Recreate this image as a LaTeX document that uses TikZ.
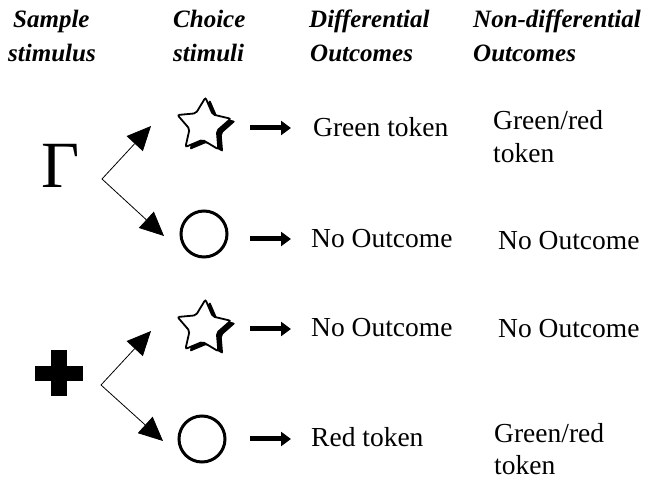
\documentclass[tikz,border=0pt]{standalone}
\usepackage{fontspec}
\setmainfont{Liberation Serif}
\usetikzlibrary{shapes.geometric,arrows.meta}
\begin{document}
\begin{tikzpicture}[x=1pt,y=-1pt,
  hdr/.style={anchor=base west,inner sep=0pt,font=\fontsize{25}{25}\selectfont\bfseries\itshape},
  txt/.style={anchor=base west,inner sep=0pt,font=\fontsize{27.5}{27.5}\selectfont},
  branch/.style={line width=0.8pt,-{Triangle[length=24pt,width=22pt]}},
  shortarrow/.style={line width=5pt,-{Triangle[length=10pt,width=14pt]}},
  starfront/.style={star,star points=5,star point ratio=1.95,minimum size=56pt,inner sep=0pt,draw,fill=white,line width=1.8pt,rounded corners=2pt,shape border rotate=-4},
  starshadow/.style={star,star points=5,star point ratio=1.95,minimum size=57pt,inner sep=0pt,fill=black,rounded corners=2pt,shape border rotate=-4},
  choicecircle/.style={circle,draw,line width=3pt,minimum size=46pt,inner sep=0pt},
  bigsym/.style={inner sep=0pt,font=\fontsize{66}{66}\selectfont}
]
\useasboundingbox (0,0) rectangle (649,481);

% headers
\node[hdr] (h1a) at (13,28) {Sample};
\node[hdr] (h1b) at (8,62) {stimulus};
\node[hdr] (h2a) at (173,28) {Choice};
\node[hdr] (h2b) at (173,62) {stimuli};
\node[hdr] (h3a) at (309,28) {Differential};
\node[hdr] (h3b) at (310,62) {Outcomes};
\node[hdr] (h4a) at (473,28) {Non-differential};
\node[hdr] (h4b) at (473,62) {Outcomes};

% sample stimuli
\node[bigsym] (gamma) at (61,166) {Γ};
\fill (35,366) rectangle (83,381);
\fill (51,350) rectangle (67,396);
\node[inner sep=0pt,minimum size=48pt] (plus) at (59,373) {};

% choice stimuli
\node[starshadow] (star1s) at (208,128) {};
\node[starfront] (star1) at (203.5,125.5) {};
\node[choicecircle] (circ1) at (204,234) {};
\node[starshadow] (star2s) at (208,330) {};
\node[starfront] (star2) at (203.5,327.5) {};
\node[choicecircle] (circ2) at (202,439) {};

% branch arrows
\coordinate (v1) at (102,179);
\coordinate (t1a) at (151,126);
\coordinate (t1b) at (164,236);
\coordinate (v2) at (101,385);
\coordinate (t2a) at (151,331);
\coordinate (t2b) at (163,441);
\draw[branch] (v1) -- (t1a);
\draw[branch] (v1) -- (t1b);
\draw[branch] (v2) -- (t2a);
\draw[branch] (v2) -- (t2b);

% short arrows
\coordinate (a1s) at (250,128); \coordinate (a1e) at (291,128);
\coordinate (a2s) at (250,239); \coordinate (a2e) at (291,239);
\coordinate (a3s) at (250,329); \coordinate (a3e) at (291,329);
\coordinate (a4s) at (250,439); \coordinate (a4e) at (291,439);
\draw[shortarrow] (a1s) -- (a1e);
\draw[shortarrow] (a2s) -- (a2e);
\draw[shortarrow] (a3s) -- (a3e);
\draw[shortarrow] (a4s) -- (a4e);

% differential outcomes
\node[txt] (d1) at (313,137) {Green token};
\node[txt] (d2) at (311,248) {No Outcome};
\node[txt] (d3) at (311,337) {No Outcome};
\node[txt] (d4) at (311,447) {Red token};

% non-differential outcomes
\node[txt] (n1a) at (493,130) {Green/red};
\node[txt] (n1b) at (493,163) {token};
\node[txt] (n2) at (498,250) {No Outcome};
\node[txt] (n3) at (498,338) {No Outcome};
\node[txt] (n4a) at (494,443) {Green/red};
\node[txt] (n4b) at (494,475) {token};
\end{tikzpicture}
\end{document}
